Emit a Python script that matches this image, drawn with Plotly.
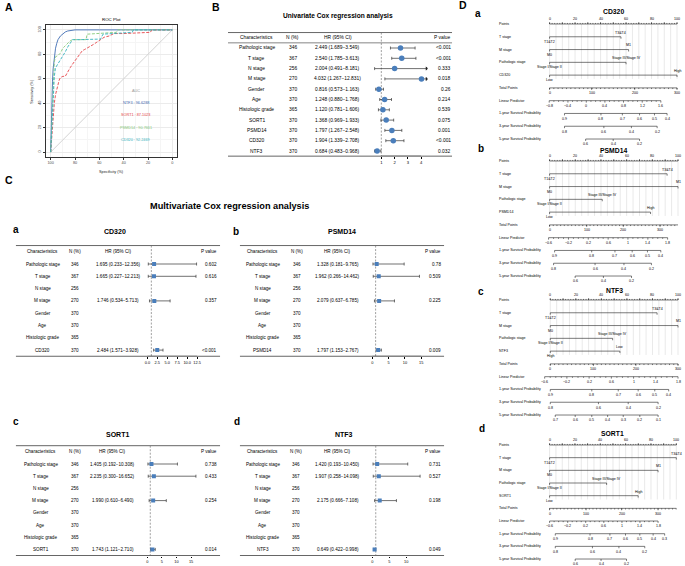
import plotly.graph_objects as go

W, H = 685, 566
FONT = "Liberation Sans, Arial, Helvetica, sans-serif"

# ---------------- data ----------------
# ROC curves (specificity %, sensitivity %)
roc_ntf3_spec = [100, 99.5, 99, 98.5, 98, 97, 96, 95, 94, 92, 90, 88, 86, 84, 82, 80, 60, 30, 0]
roc_ntf3_sens = [0, 25, 45, 58, 68, 79, 85, 89, 92, 95, 97, 98.3, 99.1, 99.6, 99.9, 100, 100, 100, 100]
roc_sort1_spec = [100, 99, 98, 97, 96, 95, 94, 93, 92, 90, 88, 86, 84, 82, 80, 78, 76, 74, 72, 68, 65, 62, 59, 56, 52, 48, 40, 30, 18, 17, 0]
roc_sort1_sens = [0, 14, 30, 40, 47, 52, 56, 59, 61, 62, 62, 66, 69, 72, 75, 78, 81, 83, 84, 86, 88, 90, 92, 94, 95, 97, 97, 97.5, 98, 100, 100]
roc_psmd14_spec = [100, 99, 98, 97.5, 97, 96, 94, 92, 90, 88, 86, 84, 82, 78, 74, 71, 70, 60, 50, 46, 45, 0]
roc_psmd14_sens = [0, 25, 50, 65, 74, 78, 79, 81, 85, 87, 89, 91, 92, 92, 92, 92, 96.5, 97, 97.5, 98, 100, 100]
roc_cd320_spec = [100, 99, 98, 97, 96, 94, 92, 90, 88, 86, 84, 82, 76, 70, 64, 59, 57, 50, 40, 33, 32, 0]
roc_cd320_sens = [0, 22, 45, 62, 69, 72, 75, 79, 82, 86, 89, 92, 92, 92, 92, 92.5, 96.5, 97, 97.5, 98, 100, 100]
roc_diag_spec = [100, 0]
roc_diag_sens = [0, 100]
roc_names = ["NTF3", "SORT1", "PSMD14", "CD320"]
roc_auc = ["96.6288", "87.1023", "90.7661", "92.2469"]
roc_ticks = [0, 20, 40, 60, 80, 100]

# Univariate Cox
uni_chars = ["Pathologic stage", "T stage", "N stage", "M stage", "Gender", "Age",
             "Histologic grade", "SORT1", "PSMD14", "CD320", "NTF3"]
uni_n = [346, 367, 256, 270, 370, 370, 365, 370, 370, 370, 370]
uni_hr = [2.449, 2.540, 2.004, 4.032, 0.816, 1.248, 1.120, 1.368, 1.797, 1.904, 0.684]
uni_lo = [1.689, 1.785, 0.491, 1.267, 0.573, 0.880, 0.781, 0.969, 1.267, 1.339, 0.483]
uni_hi = [3.549, 3.613, 8.181, 12.831, 1.163, 1.768, 1.606, 1.933, 2.548, 2.708, 0.968]
uni_p = ["<0.001", "<0.001", "0.333", "0.018", "0.26", "0.214", "0.539", "0.075", "0.001", "<0.001", "0.032"]
uni_ticks = [1, 2, 3, 4]

# Multivariate Cox
multi_chars = ["Pathologic stage", "T stage", "N stage", "M stage", "Gender", "Age", "Histologic grade"]
multi_n = [346, 367, 256, 270, 370, 370, 365, 370]
cd320_hr = [1.695, 1.665, None, 1.746, None, None, None, 2.484]
cd320_lo = [0.233, 0.227, None, 0.534, None, None, None, 1.571]
cd320_hi = [12.356, 12.213, None, 5.713, None, None, None, 3.928]
cd320_p = ["0.602", "0.616", "", "0.357", "", "", "", "<0.001"]
psmd14_hr = [1.328, 1.962, None, 2.079, None, None, None, 1.797]
psmd14_lo = [0.181, 0.266, None, 0.637, None, None, None, 1.153]
psmd14_hi = [9.765, 14.462, None, 6.785, None, None, None, 2.767]
psmd14_p = ["0.78", "0.509", "", "0.225", "", "", "", "0.009"]
sort1_hr = [1.405, 2.235, None, 1.990, None, None, None, 1.743]
sort1_lo = [0.192, 0.300, None, 0.610, None, None, None, 1.121]
sort1_hi = [10.308, 16.652, None, 6.490, None, None, None, 2.710]
sort1_p = ["0.738", "0.433", "", "0.254", "", "", "", "0.014"]
ntf3_hr = [1.420, 1.907, None, 2.175, None, None, None, 0.649]
ntf3_lo = [0.193, 0.258, None, 0.666, None, None, None, 0.422]
ntf3_hi = [10.450, 14.098, None, 7.108, None, None, None, 0.998]
ntf3_p = ["0.731", "0.527", "", "0.198", "", "", "", "0.049"]
cd320_axis_ticks = [0, 2.5, 5, 7.5, 10, 12.5]
cd320_axis_text = ["0.0", "2.5", "5.0", "7.5", "10.0", "12.5"]
psmd14_axis_ticks = [0, 5, 10, 15]
sort1_axis_ticks = [0, 5, 10, 15]
ntf3_axis_ticks = [0, 5, 10]

# Nomograms (positions in "Points" units, 0-100)
nomo_rows = ["Points", "Total Points", "Linear Predictor", "1-year Survival Probability",
             "3-year Survival Probability", "5-year Survival Probability"]
nomo_pred = ["T stage", "M stage", "Pathologic stage"]
nomo_total_ticks = [0, 100, 200, 300]

cd320_nomo_pts = [56, 62, 60, 100]
cd320_nomo_lab0 = ["T1&T2", "M0", "Stage I/Stage II", "Low"]
cd320_nomo_lab1 = ["T3&T4", "M1", "Stage III/Stage IV", "High"]
cd320_nomo_total = [0, 33, 66.8, 100]
cd320_lp_t = [-0.8, -0.4, 0, 0.4, 0.8, 1.2, 1.6]
cd320_lp_p = [-0.3, 14.4, 28.8, 43.4, 58.0, 72.7, 87.3]
cd320_s1_t = [0.9, 0.8, 0.7, 0.6, 0.5, 0.4]
cd320_s1_p = [11.7, 40.3, 57.1, 70.6, 82.3, 92.2]
cd320_s3_t = [0.8, 0.6, 0.4, 0.2]
cd320_s3_p = [11.7, 42.6, 64.2, 84.4]
cd320_s5_t = [0.6, 0.4, 0.2]
cd320_s5_p = [28.3, 49.9, 70.6]

psmd14_nomo_pts = [91.5, 100, 41, 78.6]
psmd14_nomo_lab0 = ["T1&T2", "M0", "Stage I/Stage II", "Low"]
psmd14_nomo_lab1 = ["T3&T4", "M1", "Stage III/Stage IV", "High"]
psmd14_nomo_total = [0, 28.9, 57.4, 86.0]
psmd14_lp_t = [-0.6, -0.2, 0.2, 0.6, 1, 1.4, 1.8]
psmd14_lp_p = [-0.8, 14.7, 30.1, 45.6, 61.0, 76.5, 91.9]
psmd14_s1_t = [0.9, 0.8, 0.7, 0.6, 0.5, 0.4]
psmd14_s1_p = [3.9, 32.8, 50.9, 64.3, 76.2, 86.6]
psmd14_s3_t = [0.8, 0.6, 0.4, 0.2]
psmd14_s3_p = [3.1, 35.4, 57.9, 79.3]
psmd14_s5_t = [0.6, 0.4, 0.2]
psmd14_s5_p = [19.9, 41.9, 63.8]

ntf3_nomo_pts = [83.6, 100, 48.8, 54.5]
ntf3_nomo_lab0 = ["T1&T2", "M0", "Stage I/Stage II", "High"]
ntf3_nomo_lab1 = ["T3&T4", "M1", "Stage III/Stage IV", "Low"]
ntf3_nomo_total = [0, 33.8, 67, 100]
ntf3_lp_t = [-0.6, -0.2, 0.2, 0.6, 1, 1.4, 1.8]
ntf3_lp_p = [-4.4, 13.0, 30.4, 47.8, 65.2, 82.6, 100]
ntf3_s1_t = [0.9, 0.8, 0.7, 0.6, 0.5, 0.4]
ntf3_s1_p = [0, 32.5, 53.2, 68.8, 81.8, 92.7]
ntf3_s3_t = [0.8, 0.6, 0.4, 0.2]
ntf3_s3_p = [0, 37.7, 61, 84.4]
ntf3_s5_t = [0.7, 0.6, 0.5, 0.4, 0.3, 0.2, 0.1]
ntf3_s5_p = [3.9, 19.5, 32.5, 44.9, 57.1, 70.1, 84.4]

sort1_nomo_pts = [100, 85.6, 45, 69.9]
sort1_nomo_lab0 = ["T1&T2", "M0", "Stage I/Stage II", "Low"]
sort1_nomo_lab1 = ["T3&T4", "M1", "Stage III/Stage IV", "High"]
sort1_nomo_total = [0, 28.8, 56.8, 85.6]
sort1_lp_t = [-0.6, -0.2, 0.2, 0.6, 1, 1.4, 1.8]
sort1_lp_p = [0, 14.3, 28.5, 42.8, 57.1, 71.3, 85.6]
sort1_s1_t = [0.9, 0.8, 0.7, 0.6, 0.5, 0.4, 0.3]
sort1_s1_p = [4.5, 31.9, 47.6, 59.9, 71.2, 81.7, 90.8]
sort1_s3_t = [0.8, 0.6, 0.4, 0.2]
sort1_s3_p = [4.5, 33.8, 54.7, 75.1]
sort1_s5_t = [0.6, 0.4, 0.2]
sort1_s5_p = [20.2, 40.6, 60.7]

# ---------------- helpers ----------------
def X(px):
    return px / W


def Y(py):
    return 1 - py / H


fig = go.Figure()
annotations = []
shapes = []
axes = {}


def axname(i):
    return ("x" if i == 1 else f"x{i}"), ("y" if i == 1 else f"y{i}")


def laykey(i):
    return ("xaxis" if i == 1 else f"xaxis{i}"), ("yaxis" if i == 1 else f"yaxis{i}")


def txt(text, x, y, size, xref="paper", yref="paper", xanchor="center", yanchor="middle",
        color="#000", bold=False, angle=0):
    annotations.append(dict(text=f"<b>{text}</b>" if bold else text, x=x, y=y, xref=xref, yref=yref,
                            xanchor=xanchor, yanchor=yanchor, showarrow=False, textangle=angle,
                            borderpad=0, font=dict(size=size, color=color, family=FONT)))


def hline(x0, x1, py, color="#666", width=1.0):
    shapes.append(dict(type="line", xref="paper", yref="paper", x0=X(x0), x1=X(x1), y0=Y(py), y1=Y(py),
                       line=dict(color=color, width=width)))


# ---------------- panel letters / titles ----------------
txt("A", X(8), Y(7), 10.5, bold=True)
txt("B", X(216), Y(7), 10.5, bold=True)
txt("C", X(8), Y(180), 10.5, bold=True)
txt("D", X(464), Y(5), 10.5, bold=True)
txt("Univariate Cox regression analysis", X(338), Y(16), 6.6, bold=True)
txt("Multivariate Cox regression analysis", X(230), Y(206), 9.2, bold=True)

# ---------------- A: ROC ----------------
roc_colors = ["#3F6DB3", "#E5454A", "#86C97A", "#35B2BE"]
fig.add_trace(go.Scatter(x=roc_diag_spec, y=roc_diag_sens, mode="lines",
                         line=dict(color="#C8C8C8", width=0.8), hoverinfo="skip"))
roc_series = [(roc_ntf3_spec, roc_ntf3_sens, "solid"), (roc_sort1_spec, roc_sort1_sens, "3px,1.5px"),
              (roc_psmd14_spec, roc_psmd14_sens, "3px,1.5px"), (roc_cd320_spec, roc_cd320_sens, "3px,1.5px")]
for (sx, sy, dsh), col in zip(roc_series, roc_colors):
    fig.add_trace(go.Scatter(x=sx, y=sy, mode="lines", line=dict(color=col, width=0.9, dash=dsh),
                             hoverinfo="skip"))
roc_axis_common = dict(tickvals=roc_ticks, ticks="outside", ticklen=2, tickwidth=0.5, tickcolor="#333",
                       tickfont=dict(size=3.8, color="#4d4d4d", family=FONT), showgrid=True,
                       gridcolor="#EBEBEB", gridwidth=0.6,
                       minor=dict(tickvals=[10, 30, 50, 70, 90], showgrid=True, gridcolor="#F5F5F5",
                                  gridwidth=0.4),
                       showline=True, mirror=True, linecolor="#333", linewidth=0.6, zeroline=False,
                       fixedrange=True)
axes["xaxis"] = dict(domain=[X(45), X(177)], range=[104, -4], anchor="y", tickangle=0, **roc_axis_common)
axes["yaxis"] = dict(domain=[Y(157), Y(25)], range=[-4, 104], anchor="x", tickangle=-90, **roc_axis_common)
txt("ROC Plot", X(111), Y(19.5), 4.4)
txt("Specificity (%)", X(111), Y(172), 3.8, color="#222")
txt("Sensitivity (%)", X(31), Y(91), 3.8, color="#222", angle=-90)
txt("AUC", 30, 50, 3.8, xref="x", yref="y", color="#9A9A9A")
for k, (nm, auc, col) in enumerate(zip(roc_names, roc_auc, roc_colors)):
    txt(f"{nm} : {auc}", 30, 40 - 10 * k, 3.8, xref="x", yref="y", color=col)


# ---------------- forest tables ----------------
def forest(idx, chars, ns, hr, lo, hi, pv, row0, sp, x0px, scale, xr, tickvals, ticktext,
           tl, tr, cc, cn, ch, cp, fs, header_rule, symbol, msize):
    xa, ya = axname(idx)
    xk, yk = laykey(idx)
    n = len(chars)
    top = row0 - 1.5 * sp
    bot = row0 + (n - 0.5) * sp
    axes[xk] = dict(domain=[X(x0px + xr[0] * scale), X(x0px + xr[1] * scale)], range=xr, anchor=ya,
                    tickvals=tickvals, ticktext=ticktext, ticks="outside", ticklen=1.8, tickwidth=0.6,
                    tickcolor="#000", showline=False, showgrid=False, zeroline=False, tickangle=0,
                    tickfont=dict(size=fs - 0.7, color="#000", family=FONT), fixedrange=True)
    axes[yk] = dict(domain=[Y(bot), Y(top)], range=[n - 0.5, -1.5], anchor=xa, visible=False,
                    fixedrange=True)
    # reference line at HR = 1
    fig.add_trace(go.Scatter(x=[1, 1], y=[-1.5, n - 0.5], mode="lines",
                             line=dict(color="#777", width=0.7, dash="2px,1.5px"),
                             xaxis=xa, yaxis=ya, hoverinfo="skip"))
    # x-axis line along tick range
    fig.add_trace(go.Scatter(x=[tickvals[0], tickvals[-1]], y=[n - 0.5, n - 0.5], mode="lines",
                             line=dict(color="#000", width=0.6), xaxis=xa, yaxis=ya, hoverinfo="skip",
                             cliponaxis=False))
    rows = [i for i in range(n) if hr[i] is not None]
    xmax = xr[1] - 0.02 * (xr[1] - xr[0])
    xs = [hr[i] for i in rows]
    plus = [min(hi[i], xmax) - hr[i] for i in rows]
    minus = [hr[i] - lo[i] for i in rows]
    fig.add_trace(go.Scatter(x=xs, y=rows, mode="markers",
                             marker=dict(symbol=symbol, size=msize, color="#4A7EBB"),
                             error_x=dict(type="data", array=plus, arrayminus=minus, color="#333",
                                          thickness=0.7, width=1.5),
                             xaxis=xa, yaxis=ya, hoverinfo="skip"))
    clipped = [i for i in rows if hi[i] > xmax]
    if clipped:
        fig.add_trace(go.Scatter(x=[xmax] * len(clipped), y=clipped, mode="markers",
                                 marker=dict(symbol="triangle-right", size=3.5, color="#222"),
                                 xaxis=xa, yaxis=ya, hoverinfo="skip"))
    # text columns
    txt("Characteristics", X(cc), -1, fs, yref=ya)
    txt("N (%)", X(cn), -1, fs, yref=ya)
    txt("HR (95% CI)", X(ch), -1, fs, yref=ya)
    txt("P value", X(cp), -1, fs, yref=ya, xanchor="right")
    for i in range(n):
        txt(chars[i], X(cc), i, fs, yref=ya)
        txt(str(ns[i]), X(cn), i, fs, yref=ya)
        if hr[i] is not None:
            txt(f"{hr[i]:.3f} ({lo[i]:.3f}\u2212{hi[i]:.3f})", X(ch), i, fs, yref=ya)
        if pv[i]:
            txt(pv[i], X(cp), i, fs, yref=ya, xanchor="right")
    hline(tl, tr, top)
    hline(tl, tr, bot)
    if header_rule:
        hline(tl, tr, row0 - 0.5 * sp, width=0.8)


forest(2, uni_chars, uni_n, uni_hr, uni_lo, uni_hi, uni_p, row0=48, sp=10.3, x0px=368.7, scale=13.3,
       xr=[0.45, 4.5], tickvals=uni_ticks, ticktext=[str(t) for t in uni_ticks],
       tl=228, tr=453, cc=257, cn=293, ch=338, cp=453, fs=4.9, header_rule=True,
       symbol="circle", msize=5.5)

forest(3, multi_chars + ["CD320"], multi_n, cd320_hr, cd320_lo, cd320_hi, cd320_p, row0=264, sp=12.3,
       x0px=147, scale=4.0, xr=[-0.4, 12.9], tickvals=cd320_axis_ticks, ticktext=cd320_axis_text,
       tl=15, tr=220, cc=42, cn=74, ch=118, cp=218, fs=4.6, header_rule=False, symbol="square", msize=4)
forest(4, multi_chars + ["PSMD14"], multi_n, psmd14_hr, psmd14_lo, psmd14_hi, psmd14_p, row0=264, sp=12.3,
       x0px=373, scale=3.27, xr=[-0.4, 16], tickvals=psmd14_axis_ticks,
       ticktext=[str(t) for t in psmd14_axis_ticks],
       tl=240, tr=445, cc=263, cn=297, ch=338, cp=443, fs=4.6, header_rule=False, symbol="square", msize=4)
forest(5, multi_chars + ["SORT1"], multi_n, sort1_hr, sort1_lo, sort1_hi, sort1_p, row0=464, sp=12.2,
       x0px=147, scale=2.93, xr=[-0.4, 17.2], tickvals=sort1_axis_ticks,
       ticktext=[str(t) for t in sort1_axis_ticks],
       tl=15, tr=220, cc=40, cn=74, ch=112, cp=218, fs=4.6, header_rule=False, symbol="square", msize=4)
forest(6, multi_chars + ["NTF3"], multi_n, ntf3_hr, ntf3_lo, ntf3_hi, ntf3_p, row0=464, sp=12.2,
       x0px=373, scale=3.4, xr=[-0.4, 14.6], tickvals=ntf3_axis_ticks,
       ticktext=[str(t) for t in ntf3_axis_ticks],
       tl=240, tr=445, cc=263, cn=296, ch=338, cp=443, fs=4.6, header_rule=False, symbol="square", msize=4)

txt("a", X(15), Y(229), 10, bold=True)
txt("b", X(236), Y(231), 10, bold=True)
txt("c", X(15), Y(421), 10, bold=True)
txt("d", X(237), Y(421), 10, bold=True)
txt("CD320", X(115), Y(231), 7, bold=True)
txt("PSMD14", X(343), Y(231), 7, bold=True)
txt("SORT1", X(117), Y(434), 7, bold=True)
txt("NTF3", X(345), Y(434), 7, bold=True)


# ---------------- D: nomograms ----------------
def nomogram(idx, title, gene, px0, px100, row0, sp, title_py, pts, lab0, lab1, tot_pos,
             lp_t, lp_p, s1_t, s1_p, s3_t, s3_p, s5_t, s5_p):
    xa, ya = axname(idx)
    xk, yk = laykey(idx)
    sc = (px100 - px0) / 100.0
    xr = [-12.0, (684.0 - px0) / sc]
    bot_py = min(row0 + 9.5 * sp, 565.5)
    bot_r = (bot_py - row0) / sp
    axes[xk] = dict(domain=[X(px0 + xr[0] * sc), X(px0 + xr[1] * sc)], range=xr, visible=False,
                    anchor=ya, fixedrange=True)
    axes[yk] = dict(domain=[Y(bot_py), Y(row0 - sp)], range=[bot_r, -1.0], visible=False,
                    anchor=xa, fixedrange=True)
    fs = 3.6
    gx, gy = [], []
    for v in range(0, 101, 5):
        gx += [v, v, None]
        gy += [0, 4.3, None]
    fig.add_trace(go.Scatter(x=gx, y=gy, mode="lines", line=dict(color="#D2D2D2", width=0.5),
                             xaxis=xa, yaxis=ya, hoverinfo="skip"))
    lx, ly = [], []

    def seg(x0, y0, x1, y1):
        lx.extend([x0, x1, None])
        ly.extend([y0, y1, None])

    tk = 0.15
    # Points axis
    seg(0, 0, 100, 0)
    for v in range(0, 101, 2):
        seg(v, 0, v, -tk * 0.55)
    for v in range(0, 101, 10):
        seg(v, 0, v, -tk)
    for v in range(0, 101, 20):
        txt(str(v), v, -0.38, fs, xref=xa, yref=ya)
    # predictors
    for r, (p, l0, l1) in enumerate(zip(pts, lab0, lab1)):
        row = r + 1
        seg(0, row, p, row)
        seg(0, row, 0, row + tk)
        seg(p, row, p, row + tk)
        txt(l1, p, row - 0.32, fs, xref=xa, yref=ya)
        txt(l0, 0, row + 0.4, fs, xref=xa, yref=ya)
    # Total points
    per = tot_pos[-1] / nomo_total_ticks[-1]
    seg(0, 5, 100, 5)
    v = 0
    while v * per <= 100.01:
        seg(v * per, 5, v * per, 5 + tk * 0.6)
        v += 10
    for t, p in zip(nomo_total_ticks, tot_pos):
        seg(p, 5, p, 5 + tk)
        txt(str(t), p, 5.42, fs, xref=xa, yref=ya)
    # Linear predictor
    seg(lp_p[0], 6, lp_p[-1], 6)
    for a, b in zip(lp_p[:-1], lp_p[1:]):
        for f in (0.25, 0.5, 0.75):
            m = a + (b - a) * f
            seg(m, 6, m, 6 + tk * 0.6)
    for t, p in zip(lp_t, lp_p):
        seg(p, 6, p, 6 + tk)
        txt(f"{t:g}".replace("-", "\u2212"), p, 6.42, fs, xref=xa, yref=ya)
    # survival probabilities
    for row, (tt, pp) in zip([7, 8, 9], [(s1_t, s1_p), (s3_t, s3_p), (s5_t, s5_p)]):
        seg(pp[0], row, pp[-1], row)
        for t, p in zip(tt, pp):
            seg(p, row, p, row + tk)
            txt(f"{t:g}", p, row + 0.42, fs, xref=xa, yref=ya)
    fig.add_trace(go.Scatter(x=lx, y=ly, mode="lines", line=dict(color="#222", width=0.6),
                             xaxis=xa, yaxis=ya, hoverinfo="skip", cliponaxis=False))
    labels = [nomo_rows[0]] + nomo_pred + [gene] + nomo_rows[1:]
    for row, lab in enumerate(labels):
        txt(lab, X(499), row, fs, xref="paper", yref=ya, xanchor="left")
    txt(title, X(px0 + 50 * sc), Y(title_py), 6.8, bold=True)


nomogram(7, "CD320", "CD320", 551, 679, 24, 12.78, 11, cd320_nomo_pts, cd320_nomo_lab0, cd320_nomo_lab1,
         cd320_nomo_total, cd320_lp_t, cd320_lp_p, cd320_s1_t, cd320_s1_p, cd320_s3_t, cd320_s3_p,
         cd320_s5_t, cd320_s5_p)
nomogram(8, "PSMD14", "PSMD14", 551, 680, 161, 12.78, 150.5, psmd14_nomo_pts, psmd14_nomo_lab0,
         psmd14_nomo_lab1, psmd14_nomo_total, psmd14_lp_t, psmd14_lp_p, psmd14_s1_t, psmd14_s1_p,
         psmd14_s3_t, psmd14_s3_p, psmd14_s5_t, psmd14_s5_p)
nomogram(9, "NTF3", "NTF3", 551.7, 680, 300, 12.78, 290, ntf3_nomo_pts, ntf3_nomo_lab0, ntf3_nomo_lab1,
         ntf3_nomo_total, ntf3_lp_t, ntf3_lp_p, ntf3_s1_t, ntf3_s1_p, ntf3_s3_t, ntf3_s3_p,
         ntf3_s5_t, ntf3_s5_p)
nomogram(10, "SORT1", "SORT1", 551, 678.3, 445, 12.67, 433.5, sort1_nomo_pts, sort1_nomo_lab0,
         sort1_nomo_lab1, sort1_nomo_total, sort1_lp_t, sort1_lp_p, sort1_s1_t, sort1_s1_p,
         sort1_s3_t, sort1_s3_p, sort1_s5_t, sort1_s5_p)

txt("a", X(479), Y(14), 10, bold=True)
txt("b", X(482), Y(148), 10, bold=True)
txt("c", X(482), Y(291), 10, bold=True)
txt("d", X(483), Y(428), 10, bold=True)

fig.update_layout(width=W, height=H, autosize=False, margin=dict(l=0, r=0, t=0, b=0),
                  paper_bgcolor="white", plot_bgcolor="white", showlegend=False,
                  font=dict(family=FONT), annotations=annotations, shapes=shapes, **axes)

fig.write_html("out.html", config={"displayModeBar": False},
               post_script="document.body.style.margin='0px';document.body.style.overflow='hidden';")
